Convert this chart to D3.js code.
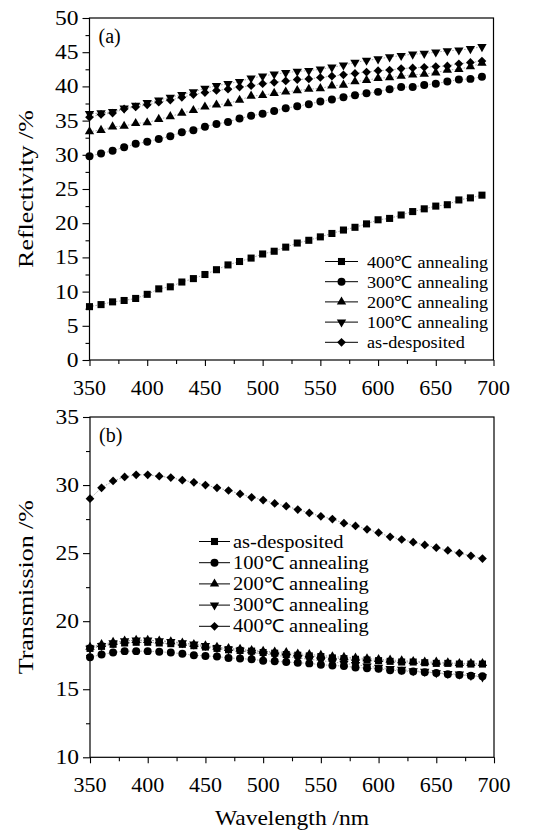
<!DOCTYPE html>
<html>
<head>
<meta charset="utf-8">
<script src="https://cdn.jsdelivr.net/npm/d3@7"></script>
<style>
body { margin: 0; background: #fff; }
svg { display: block; }
</style>
</head>
<body>
<svg width="544" height="830"></svg>
<script>
// wavelength grid (nm)
const wavelength = [350,360,370,380,390,400,410,420,430,440,450,460,470,480,490,500,510,520,530,540,
                    550,560,570,580,590,600,610,620,630,640,650,660,670,680,690];

// (a) reflectivity, %
const refl400 = [7.8,8.1,8.5,8.7,9.0,9.6,10.4,10.7,11.4,11.9,12.5,13.2,13.9,14.4,14.9,15.5,15.9,16.5,17.1,17.5,
                 18.0,18.5,19.0,19.4,19.9,20.5,20.7,21.2,21.7,22.1,22.5,22.7,23.4,23.7,24.1];
const refl300 = [29.8,30.2,30.6,31.1,31.6,31.9,32.3,32.7,33.3,33.6,34.1,34.5,34.8,35.3,35.7,36.0,36.4,36.8,37.1,37.4,
                 37.8,38.1,38.4,38.7,39.0,39.2,39.6,39.9,39.9,40.2,40.4,40.7,41.0,41.1,41.4];
const refl200 = [33.4,33.6,34.1,34.2,34.6,34.7,35.2,35.6,36.1,36.5,37.0,37.3,37.5,38.0,38.6,38.7,39.0,39.2,39.4,39.6,
                 39.7,40.1,40.2,40.7,40.9,41.2,41.3,41.5,41.7,41.8,42.0,42.4,42.5,42.9,43.4];
const refl100 = [36.0,36.1,36.3,36.8,37.2,37.6,38.0,38.4,38.8,39.2,39.7,40.1,40.4,40.7,41.2,41.5,41.8,42.0,42.2,42.3,
                 42.5,42.8,43.1,43.5,43.8,44.0,44.3,44.5,44.7,44.8,45.0,45.2,45.3,45.5,45.8];
const reflAsDep = [35.5,35.9,36.1,36.7,37.0,37.3,37.7,38.0,38.4,38.8,39.1,39.4,39.6,39.9,40.1,40.4,40.6,40.8,41.0,41.1,
                   41.3,41.5,41.7,41.9,42.1,42.3,42.4,42.6,42.7,42.8,42.9,43.0,43.3,43.5,43.7];

// (b) transmission, %
const transAsDep = [18.0,18.15,18.3,18.4,18.45,18.45,18.4,18.35,18.3,18.2,18.1,18.0,17.9,17.85,17.8,17.7,17.65,17.55,17.5,17.45,
                    17.4,17.3,17.25,17.2,17.15,17.1,17.05,17.0,17.0,16.95,16.9,16.9,16.85,16.85,16.85];
const trans100 = [17.35,17.55,17.7,17.8,17.8,17.8,17.75,17.7,17.6,17.5,17.45,17.4,17.3,17.25,17.2,17.1,17.05,17.0,16.95,16.9,
                  16.8,16.75,16.7,16.6,16.55,16.5,16.4,16.35,16.3,16.25,16.2,16.1,16.05,16.0,15.95];
const trans200 = [18.1,18.3,18.45,18.55,18.6,18.6,18.55,18.5,18.4,18.3,18.2,18.1,18.0,17.95,17.85,17.8,17.75,17.7,17.6,17.55,
                  17.5,17.4,17.35,17.3,17.25,17.2,17.15,17.1,17.05,17.0,17.0,16.95,16.9,16.9,16.9];
const trans300 = [18.0,18.2,18.4,18.55,18.6,18.6,18.55,18.5,18.4,18.3,18.2,18.05,17.95,17.85,17.7,17.6,17.5,17.4,17.3,17.2,
                  17.1,17.0,16.9,16.8,16.7,16.6,16.5,16.45,16.35,16.3,16.2,16.15,16.1,16.0,15.9];
const trans400 = [29.0,29.8,30.3,30.6,30.75,30.75,30.65,30.55,30.36,30.2,30.0,29.8,29.6,29.35,29.1,28.9,28.65,28.45,28.2,27.95,
                  27.7,27.5,27.2,27.0,26.75,26.5,26.2,26.0,25.8,25.6,25.4,25.2,25.0,24.8,24.6];

const xTicks = [350,400,450,500,550,600,650,700];
const yTicksA = [0,5,10,15,20,25,30,35,40,45,50];
const yTicksB = [10,15,20,25,30,35];

const FONT = 'Liberation Serif';
const svg = d3.select('svg');

// marker shapes
const sym = {
  square:  {type: d3.symbolSquare,   size: 50, rot: 0},
  circle:  {type: d3.symbolCircle,   size: 50, rot: 0},
  triUp:   {type: d3.symbolTriangle, size: 38, rot: 0},
  triDown: {type: d3.symbolTriangle, size: 38, rot: 180},
  diamond: {type: d3.symbolSquare,   size: 38, rot: 45}
};

function drawPanel(p) {
  const x = d3.scaleLinear().domain([350,700]).range([p.left, p.right]);
  const y = d3.scaleLinear().domain(p.yDomain).range([p.bottom, p.top]);
  const g = svg.append('g');

  // connecting lines, then markers
  p.series.forEach(s => {
    g.append('path')
      .datum(s.values)
      .attr('fill','none')
      .attr('stroke','#8a8a8a')
      .attr('stroke-width',0.8)
      .attr('stroke-dasharray','1.5,1.5')
      .attr('d', d3.line().x((d,i)=>x(wavelength[i])).y(d=>y(d)));
  });
  p.series.forEach(s => {
    const m = sym[s.shape];
    g.selectAll(null)
      .data(s.values)
      .join('path')
      .attr('d', d3.symbol(m.type, m.size))
      .attr('transform', (d,i)=>`translate(${x(wavelength[i])},${y(d)}) rotate(${m.rot})`)
      .attr('fill','#000');
  });

  // frame
  g.append('rect')
    .attr('x',p.left).attr('y',p.top)
    .attr('width',p.right-p.left).attr('height',p.bottom-p.top)
    .attr('fill','none').attr('stroke','#000').attr('stroke-width',1.2);

  // x axis
  const xa = g.append('g').attr('transform',`translate(0,${p.bottom})`)
    .call(d3.axisBottom(x).tickValues(d3.range(350,701,25)).tickSize(6).tickFormat(''));
  xa.select('.domain').remove();
  xa.selectAll('.tick line').attr('stroke-width',1.1)
    .attr('y2', d => d % 50 === 0 ? 6 : 4);
  g.selectAll(null).data(xTicks).join('text')
    .attr('x', d=>x(d)).attr('y', p.bottom+35)
    .attr('text-anchor','middle')
    .attr('font-family',FONT).attr('font-size',22)
    .text(d=>d);

  // y axis
  const ya = g.append('g').attr('transform',`translate(${p.left},0)`)
    .call(d3.axisLeft(y).tickValues(d3.range(p.yDomain[0], p.yDomain[1]+0.1, 2.5)).tickSize(7).tickFormat(''));
  ya.select('.domain').remove();
  ya.selectAll('.tick line').attr('stroke-width',1.1)
    .attr('x2', d => d % 5 === 0 ? -7 : -4);
  p.yTicks.forEach(v => {
    g.append('text')
      .attr('transform',`translate(${p.left-11},${y(v)+7}) scale(1.12,1)`)
      .attr('text-anchor','end')
      .attr('font-family',FONT).attr('font-size',21)
      .text(v);
  });

  // y title
  g.append('text')
    .attr('transform',`translate(33,${(p.top+p.bottom)/2}) rotate(-90) scale(1.18,1)`)
    .attr('text-anchor','middle')
    .attr('font-family',FONT).attr('font-size',22)
    .text(p.yTitle);

  // panel tag
  g.append('text')
    .attr('x', p.left+9).attr('y', p.top+25)
    .attr('font-family',FONT).attr('font-size',20)
    .text(p.tag);

  // legend
  const L = p.legend;
  p.legendOrder.forEach((s,i) => {
    const cy = L.y0 + i*L.dy;
    g.append('line').attr('x1',L.x0).attr('x2',L.x1).attr('y1',cy).attr('y2',cy)
      .attr('stroke','#000').attr('stroke-width',1);
    const m = sym[s.shape];
    g.append('path').attr('d', d3.symbol(m.type, m.size))
      .attr('transform',`translate(${(L.x0+L.x1)/2},${cy}) rotate(${m.rot})`)
      .attr('fill','#000');
    g.append('text')
      .attr('transform',`translate(${L.tx},${cy+6}) scale(${L.sx},1)`)
      .attr('font-family',FONT).attr('font-size', L.fs)
      .text(s.name);
  });
}

const A400 = {name:'400℃ annealing', shape:'square',  values:refl400};
const A300 = {name:'300℃ annealing', shape:'circle',  values:refl300};
const A200 = {name:'200℃ annealing', shape:'triUp',   values:refl200};
const A100 = {name:'100℃ annealing', shape:'triDown', values:refl100};
const A0   = {name:'as-desposited',  shape:'diamond', values:reflAsDep};

drawPanel({
  left: 89.5, right: 493.5, top: 18, bottom: 360,
  yDomain: [0,50], yTicks: yTicksA,
  yTitle: 'Reflectivity /%', tag: '(a)',
  series: [A400, A300, A200, A0, A100],
  legendOrder: [A400, A300, A200, A100, A0],
  legend: {x0: 325, x1: 358, tx: 367, y0: 261.5, dy: 20.2, fs: 17, sx: 1.07}
});

const B0   = {name:'as-desposited',  shape:'square',  values:transAsDep};
const B100 = {name:'100℃ annealing', shape:'circle',  values:trans100};
const B200 = {name:'200℃ annealing', shape:'triUp',   values:trans200};
const B300 = {name:'300℃ annealing', shape:'triDown', values:trans300};
const B400 = {name:'400℃ annealing', shape:'diamond', values:trans400};

drawPanel({
  left: 90, right: 494, top: 417, bottom: 757.3,
  yDomain: [10,35], yTicks: yTicksB,
  yTitle: 'Transmission /%', tag: '(b)',
  series: [B0, B100, B200, B300, B400],
  legendOrder: [B0, B100, B200, B300, B400],
  legend: {x0: 199, x1: 230, tx: 233, y0: 541.5, dy: 21.2, fs: 18, sx: 1.14}
});

// shared x title
svg.append('text')
  .attr('transform','translate(292,825) scale(1.07,1)')
  .attr('text-anchor','middle')
  .attr('font-family',FONT).attr('font-size',22)
  .text('Wavelength /nm');
</script>
</body>
</html>
